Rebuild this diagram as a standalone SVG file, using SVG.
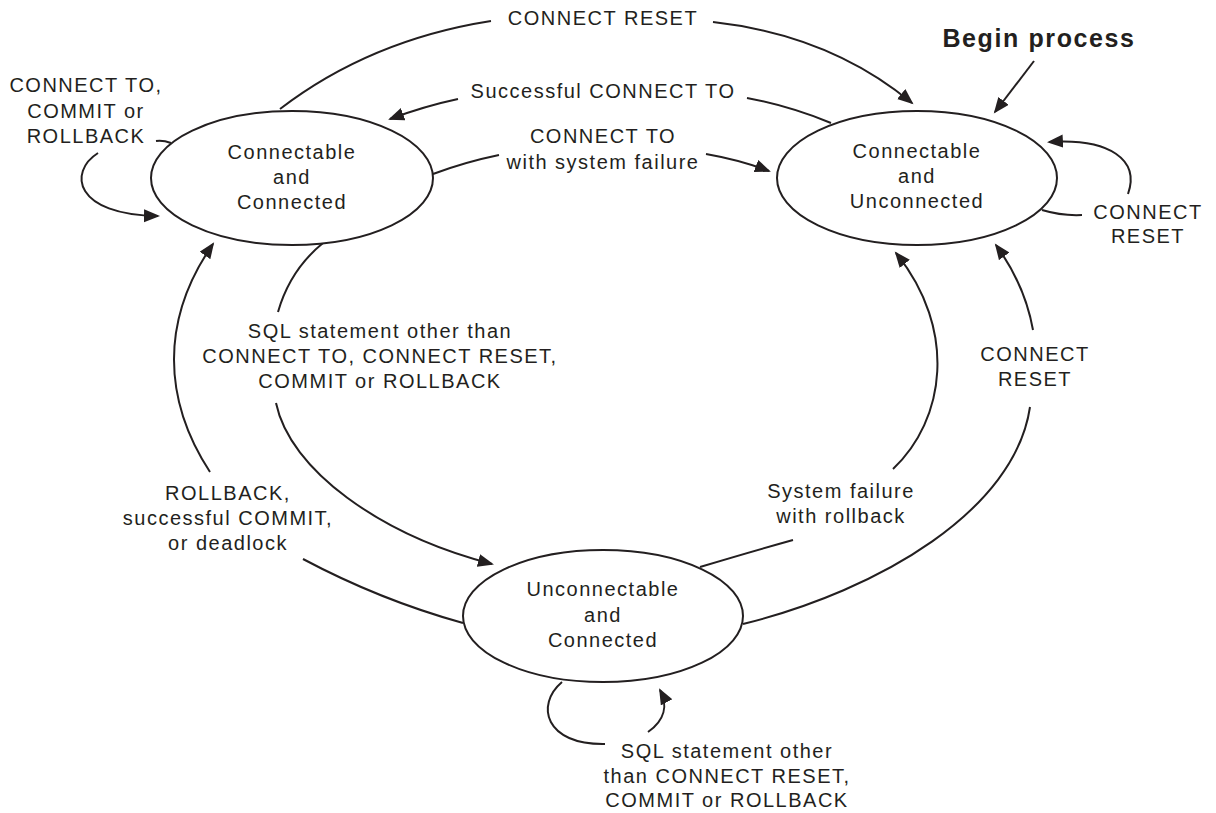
<svg xmlns="http://www.w3.org/2000/svg" width="1216" height="813" viewBox="0 0 1216 813">
  <style>
    .state { fill: #ffffff; stroke: #231f20; stroke-width: 2; }
    .edge { fill: none; stroke: #231f20; stroke-width: 2; }
    .arrow { marker-end: url(#head); }
    text { font-family: "Liberation Sans", Arial, sans-serif; font-size: 20px; fill: #231f20; text-anchor: middle; letter-spacing: 1.5px; }
    .title { font-size: 25px; font-weight: bold; letter-spacing: 1.6px; }
  </style>
  <defs>
    <marker id="head" markerUnits="userSpaceOnUse" markerWidth="18" markerHeight="14" refX="14" refY="6.5" orient="auto">
      <path d="M0,0 L16,6.5 L0,13 z" fill="#231f20"/>
    </marker>
  </defs>

  <rect width="1216" height="813" fill="#ffffff"/>

  <!-- transitions between the three connection states -->
  <g id="connectors">
    <!-- CONNECT RESET across the top -->
    <path class="edge" d="M280,109 Q370,40 491,21"/>
    <path class="edge arrow" d="M713,22 Q830,35 912,103"/>
    <text x="603" y="25">CONNECT RESET</text>

    <!-- Successful CONNECT TO -->
    <path class="edge" d="M831,123 Q790,106 747,98"/>
    <path class="edge arrow" d="M458,99 Q425,106 390,119"/>
    <text x="603" y="98">Successful CONNECT TO</text>

    <!-- CONNECT TO with system failure -->
    <path class="edge" d="M433,174 Q465,162 499,155"/>
    <path class="edge arrow" d="M706,154 Q740,160 769,171"/>
    <text x="603" y="143">CONNECT TO</text>
    <text x="603" y="169">with system failure</text>

    <!-- entry point -->
    <path class="edge arrow" d="M1034,61 L995,112"/>
    <text class="title" x="1039" y="47">Begin process</text>

    <!-- self loop: Connectable and Connected -->
    <path class="edge" d="M171,143 Q163,140 156,141"/>
    <path class="edge arrow" d="M98,153 C68,172 74,215 158,216"/>
    <text x="86" y="92">CONNECT TO,</text>
    <text x="86" y="118">COMMIT or</text>
    <text x="86" y="143">ROLLBACK</text>

    <!-- self loop: Connectable and Unconnected -->
    <path class="edge" d="M1042,210 Q1062,216 1082,215"/>
    <path class="edge arrow" d="M1128,194 C1140,160 1110,138 1049,142"/>
    <text x="1148" y="219">CONNECT</text>
    <text x="1148" y="243">RESET</text>

    <!-- SQL statement: Connected -> Unconnectable -->
    <path class="edge" d="M323,243 Q290,270 278,312"/>
    <path class="edge arrow" d="M276,403 C290,470 380,535 492,564"/>
    <text x="380" y="338">SQL statement other than</text>
    <text x="380" y="363">CONNECT TO, CONNECT RESET,</text>
    <text x="380" y="388">COMMIT or ROLLBACK</text>

    <!-- ROLLBACK / COMMIT / deadlock back to Connected -->
    <path class="edge arrow" d="M210,472 C163,400 160,320 213,244"/>
    <path class="edge" d="M303,559 Q380,600 463,623"/>
    <text x="228" y="500">ROLLBACK,</text>
    <text x="228" y="525">successful COMMIT,</text>
    <text x="228" y="550">or deadlock</text>

    <!-- System failure with rollback -->
    <path class="edge" d="M700,567 Q750,552 793,540"/>
    <path class="edge arrow" d="M893,469 C945,420 958,330 896,253"/>
    <text x="841" y="498">System failure</text>
    <text x="841" y="523">with rollback</text>

    <!-- CONNECT RESET from Unconnectable -->
    <path class="edge" d="M743,624 C880,590 1015,510 1030,407"/>
    <path class="edge arrow" d="M1033,330 Q1025,285 996,245"/>
    <text x="1035" y="361">CONNECT</text>
    <text x="1035" y="386">RESET</text>

    <!-- self loop: Unconnectable and Connected -->
    <path class="edge" d="M562,682 C535,705 545,745 605,744"/>
    <path class="edge arrow" d="M648,732 C665,720 668,705 660,690"/>
    <text x="727" y="758">SQL statement other</text>
    <text x="727" y="783">than CONNECT RESET,</text>
    <text x="727" y="807">COMMIT or ROLLBACK</text>
  </g>

  <g id="connectable-connected">
    <ellipse class="state" cx="292" cy="178" rx="141" ry="67"/>
    <text x="292" y="159">Connectable</text>
    <text x="292" y="184">and</text>
    <text x="292" y="209">Connected</text>
  </g>

  <g id="connectable-unconnected">
    <ellipse class="state" cx="917" cy="178" rx="140" ry="67"/>
    <text x="917" y="158">Connectable</text>
    <text x="917" y="183">and</text>
    <text x="917" y="208">Unconnected</text>
  </g>

  <g id="unconnectable-connected">
    <ellipse class="state" cx="603" cy="616" rx="140" ry="66"/>
    <text x="603" y="596">Unconnectable</text>
    <text x="603" y="622">and</text>
    <text x="603" y="647">Connected</text>
  </g>
</svg>
